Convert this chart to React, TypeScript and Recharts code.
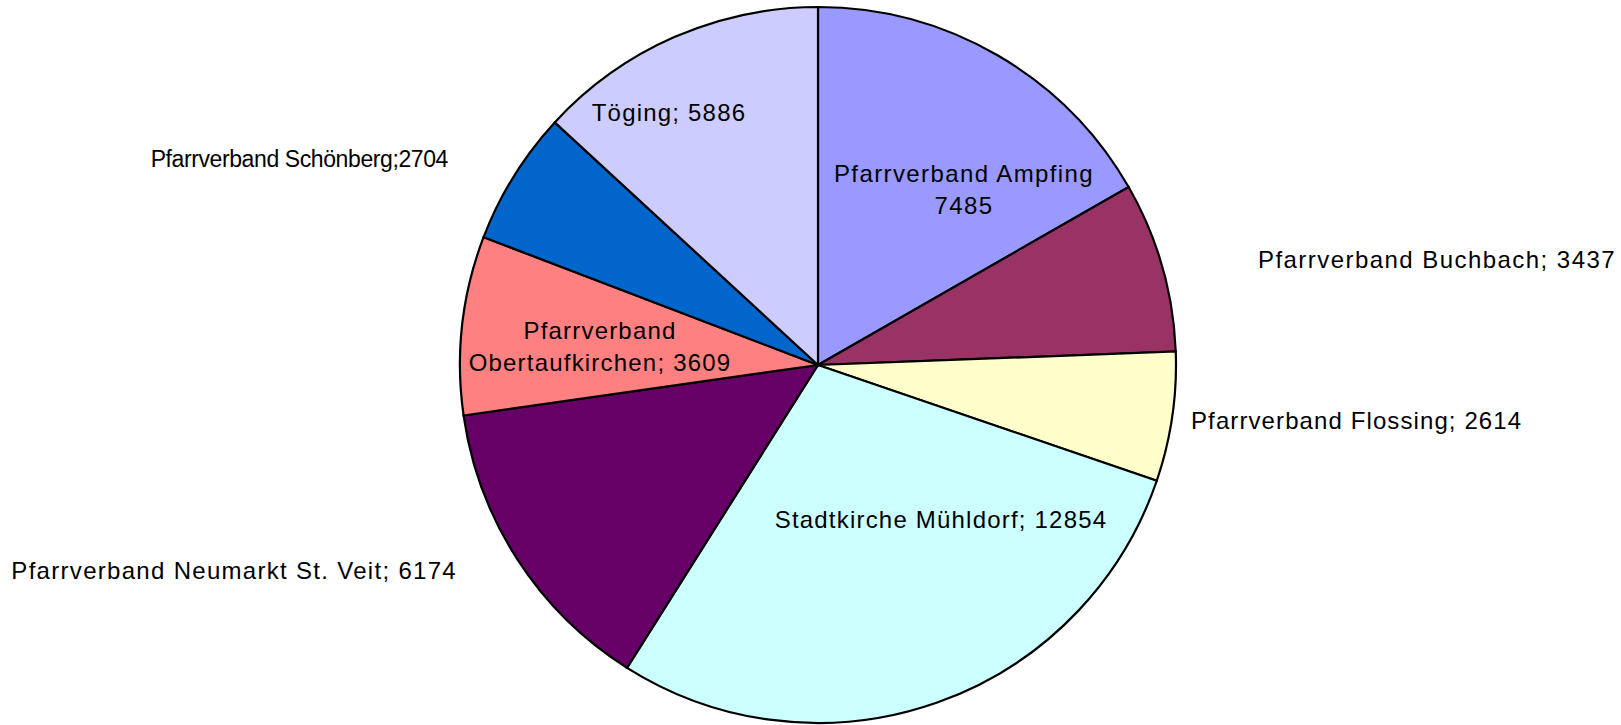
import { PieChart, Pie, Cell } from 'recharts';

const parishes = [
  'Pfarrverband Ampfing',
  'Pfarrverband Buchbach',
  'Pfarrverband Flossing',
  'Stadtkirche Mühldorf',
  'Pfarrverband Neumarkt St. Veit',
  'Pfarrverband Obertaufkirchen',
  'Pfarrverband Schönberg',
  'Töging',
];
const members = [7485, 3437, 2614, 12854, 6174, 3609, 2704, 5886];
const colors = ['#9999FF', '#993366', '#FFFFCC', '#CCFFFF', '#660066', '#FF8080', '#0066CC', '#CCCCFF'];

// label text lines, as in the original chart
const labelLines = [
  ['Pfarrverband Ampfing', '7485'],
  ['Pfarrverband Buchbach; 3437'],
  ['Pfarrverband Flossing; 2614'],
  ['Stadtkirche Mühldorf; 12854'],
  ['Pfarrverband Neumarkt St. Veit; 6174'],
  ['Pfarrverband', 'Obertaufkirchen; 3609'],
  ['Pfarrverband Schönberg;2704'],
  ['Töging; 5886'],
];
// label placement relative to the pie centre (px), anchor, size and spacing
const labelPlace: { dx: number; dy: number; anchor: 'start' | 'middle' | 'end'; fs: number; ls: number }[] = [
  { dx: 146, dy: -176, anchor: 'middle', fs: 24, ls: 1.4 },
  { dx: 440, dy: -106, anchor: 'start', fs: 24, ls: 1.45 },
  { dx: 373, dy: 55, anchor: 'start', fs: 24, ls: 1.1 },
  { dx: 123, dy: 154, anchor: 'middle', fs: 24, ls: 1.2 },
  { dx: -361, dy: 205, anchor: 'end', fs: 24, ls: 1.3 },
  { dx: -218, dy: -19, anchor: 'middle', fs: 24, ls: 1.2 },
  { dx: -370, dy: -206, anchor: 'end', fs: 23, ls: -0.4 },
  { dx: -149, dy: -253, anchor: 'middle', fs: 24, ls: 1.2 },
];

const data = parishes.map((name, i) => ({ name, value: members[i] }));

const FONT = '"Liberation Sans", Arial, sans-serif';
const LINE_H = 32;

const renderLabel = (props: any) => {
  const { cx, cy, index } = props;
  const p = labelPlace[index];
  const lines = labelLines[index];
  const x = cx + p.dx;
  const y0 = cy + p.dy - ((lines.length - 1) * LINE_H) / 2;
  return (
    <text
      key={`lbl-${index}`}
      x={x}
      y={y0}
      textAnchor={p.anchor}
      dominantBaseline="central"
      fill="#000"
      fontSize={p.fs}
      fontFamily={FONT}
      style={{ letterSpacing: `${p.ls}px` }}
    >
      {lines.map((l, j) => (
        <tspan key={j} x={x} y={y0 + j * LINE_H}>
          {l}
        </tspan>
      ))}
    </text>
  );
};

export default function App() {
  return (
    <div style={{ position: 'absolute', left: 0, top: 0, width: 1621, height: 725, background: '#fff' }}>
      <PieChart width={1621} height={725} margin={{ top: 0, right: 0, bottom: 0, left: 0 }}>
        <Pie
          data={data}
          dataKey="value"
          nameKey="name"
          cx={818}
          cy={365}
          outerRadius={358}
          startAngle={90}
          endAngle={-270}
          stroke="#000"
          strokeWidth={2.2}
          label={renderLabel}
          labelLine={false}
          isAnimationActive={false}
        >
          {data.map((d, i) => (
            <Cell key={d.name} fill={colors[i]} />
          ))}
        </Pie>
      </PieChart>
    </div>
  );
}
